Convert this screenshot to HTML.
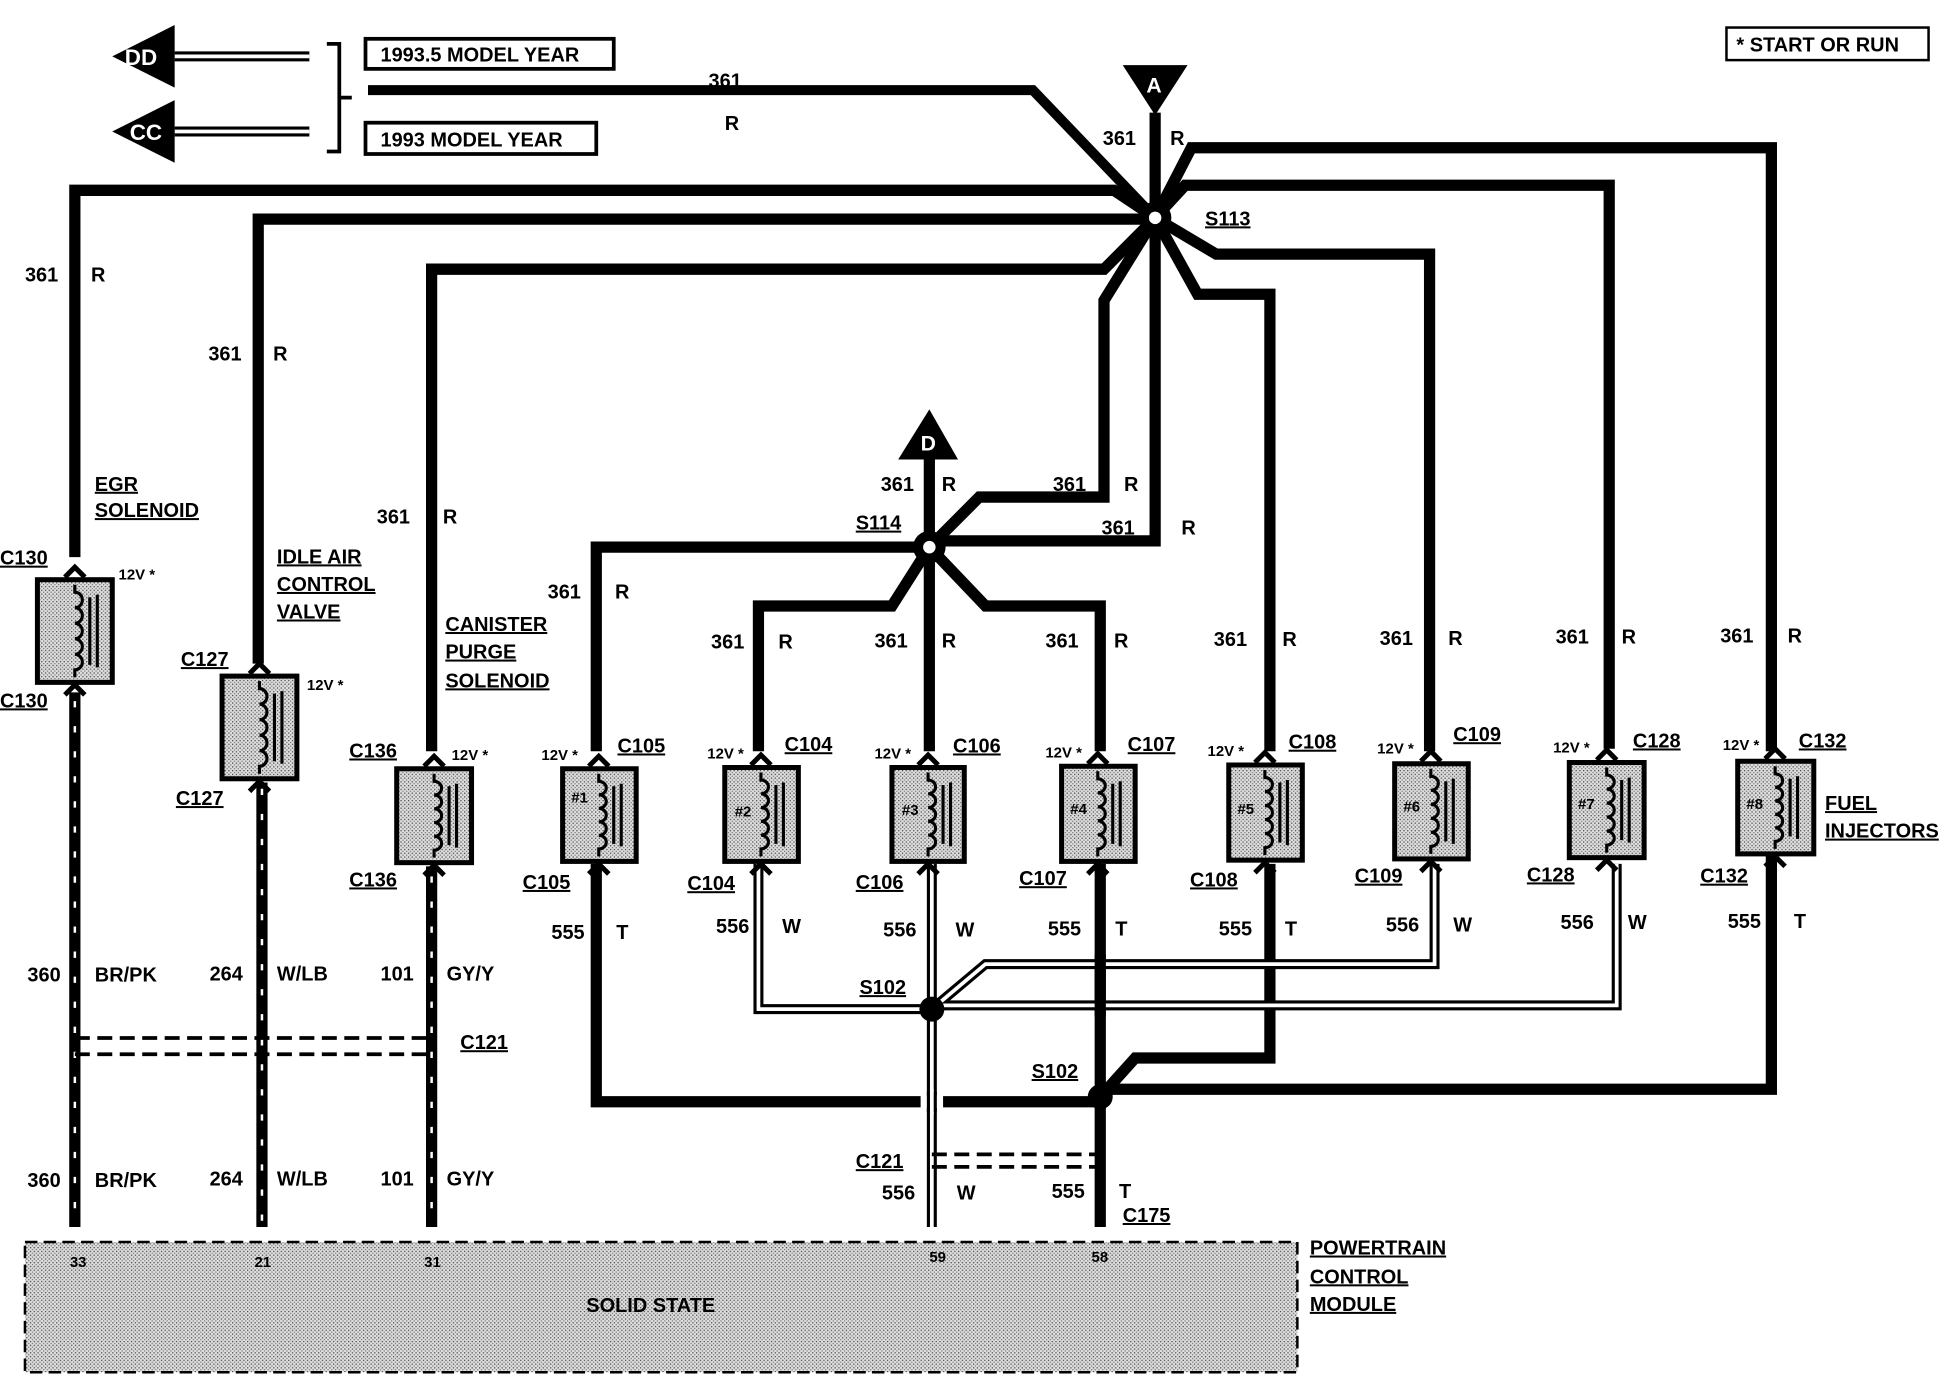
<!DOCTYPE html>
<html><head><meta charset="utf-8"><style>
html,body{margin:0;padding:0;background:#fff;}
svg{display:block}
text{font-family:"Liberation Sans",Arial,sans-serif;font-weight:bold;font-size:16px;fill:#000}
.u{text-decoration:underline}
.s{font-size:12px}
</style></head><body>
<svg id="s" width="1956" height="1376" viewBox="0 0 1568 1099" preserveAspectRatio="none" xmlns="http://www.w3.org/2000/svg">
<defs>
<pattern id="dots" width="3" height="3" patternUnits="userSpaceOnUse">
<rect width="3" height="3" fill="#ddd"/><rect width="1" height="1" fill="#444"/><rect x="1.5" y="1.5" width="1" height="1" fill="#777"/>
</pattern>
</defs>
<g id="wires" fill="none" stroke="#000" stroke-linejoin="miter">
<!-- top area -->
<path d="M295 72 H828 L926 174" stroke-width="8"/>
<path d="M926 90 V174" stroke-width="9"/>
<path d="M60 445 V152 H893 L926 174" stroke-width="9"/>
<path d="M207 530 V175 H926" stroke-width="9"/>
<path d="M346 600 V215 H885 L926 174" stroke-width="9"/>
<path d="M926 174 L955 118 H1420 V600" stroke-width="9"/>
<path d="M926 174 L950 148 H1290 V598" stroke-width="9"/>
<path d="M926 174 L975 203 H1146 V600" stroke-width="9"/>
<path d="M926 174 L960 235 H1018 V600" stroke-width="9"/>
<path d="M926 174 L885 240 V397 H785 L745 437" stroke-width="9"/>
<path d="M926 174 V432 H745" stroke-width="9"/>
<path d="M745 367 V600" stroke-width="9"/>
<path d="M745 437 H478 V600" stroke-width="9"/>
<path d="M745 437 L715 484 H608 V600" stroke-width="9"/>
<path d="M745 437 L790 484 H882 V600" stroke-width="9"/>
<!-- returns -->
<path d="M478 690 V880 H882" stroke-width="9"/>
<path d="M882 690 V980" stroke-width="9"/>
<path d="M1018 690 V845 H910 L882 876" stroke-width="9"/>
<path d="M1420 682 V870 H882" stroke-width="9"/>
<g id="dbl">
<path d="M608 690 V806 H747" stroke-width="8"/>
<path d="M747 690 V980" stroke-width="8"/>
<path d="M1150 690 V770 H790 L747 806" stroke-width="8"/>
<path d="M1296 690 V803 H747" stroke-width="8"/>
</g>
<g stroke="#fff" stroke-width="3">
<path d="M608 690 V806 H747"/>
<path d="M747 690 V980"/>
<path d="M1150 690 V770 H790 L747 806"/>
<path d="M1296 690 V803 H747"/>
</g>
<!-- gaps at crossings -->
<path d="M738 880 H756" stroke="#fff" stroke-width="10"/>
<path d="M747 872 V888" stroke-width="8"/><path d="M747 870 V890" stroke="#fff" stroke-width="3"/>
<path d="M882 762 V812" stroke-width="9"/>
<path d="M877 770 H888 M877 806 H888 M877 803 H888" stroke="#fff" stroke-width="0"/>
<!-- striped wires -->
<g stroke-width="9"><path d="M60 553 V980"/><path d="M210 625 V980"/><path d="M346 692 V980"/></g>
<g stroke="#fff" stroke-width="2" stroke-dasharray="5 15"><path d="M60 560 V980"/><path d="M210 630 V980"/><path d="M346 700 V980"/></g>
<!-- C121 dashed -->
<g stroke-width="3" stroke-dasharray="12 6"><path d="M60 829 H346"/><path d="M60 842 H346"/><path d="M747 922 H882"/><path d="M747 932 H882"/></g>
<!-- top-left -->
<path d="M140 45 H248" stroke-width="8"/><path d="M140 45 H248" stroke="#fff" stroke-width="3"/>
<path d="M140 105 H248" stroke-width="8"/><path d="M140 105 H248" stroke="#fff" stroke-width="3"/>
<path d="M262 35 H272 V121 H262 M272 78 H282" stroke-width="3"/>
</g>
<g fill="#000">
<polygon points="90,45 140,20 140,70"/>
<polygon points="90,105 140,80 140,130"/>
<polygon points="900,52 952,52 926,92"/>
<polygon points="720,367 768,367 745,327"/>
<circle cx="926" cy="174" r="13"/><circle cx="745" cy="437" r="13"/>
<circle cx="747" cy="806" r="10"/><circle cx="882" cy="876" r="10"/>
</g>
<circle cx="926" cy="174" r="5" fill="#fff"/><circle cx="745" cy="437" r="5" fill="#fff"/>
<text x="100" y="52" fill="#fff" style="fill:#fff;font-size:18px">DD</text>
<text x="104" y="112" style="fill:#fff;font-size:18px">CC</text>
<text x="919" y="74" style="fill:#fff;font-size:17px">A</text>
<text x="738" y="360" style="fill:#fff;font-size:17px">D</text>
<rect x="293" y="31" width="199" height="24" fill="#fff" stroke="#000" stroke-width="3"/>
<rect x="293" y="98" width="185" height="25" fill="#fff" stroke="#000" stroke-width="3"/>
<text x="305" y="49">1993.5 MODEL YEAR</text>
<text x="305" y="117">1993 MODEL YEAR</text>
<rect x="1384" y="22" width="162" height="26" fill="#fff" stroke="#000" stroke-width="2"/>
<text x="1392" y="41">* START OR RUN</text>
<!-- PCM -->
<rect x="20" y="992" width="1020" height="104" fill="url(#dots)" stroke="#000" stroke-width="2" stroke-dasharray="10 5"/>
<g id="comps"></g>
<g>
<text x="568" y="70">361</text><text x="581" y="104">R</text>
<text x="884" y="116">361</text><text x="938" y="116">R</text>
<text x="966" y="180" class="u">S113</text>
<text x="20" y="225">361</text><text x="73" y="225">R</text>
<text x="167" y="288">361</text><text x="219" y="288">R</text>
<text x="302" y="418">361</text><text x="355" y="418">R</text>
<text x="706" y="392">361</text><text x="755" y="392">R</text>
<text x="844" y="392">361</text><text x="901" y="392">R</text>
<text x="883" y="427">361</text><text x="947" y="427">R</text>
<text x="686" y="423" class="u">S114</text>
<text x="439" y="478">361</text><text x="493" y="478">R</text>
<text x="570" y="518">361</text><text x="624" y="518">R</text>
<text x="701" y="517">361</text><text x="755" y="517">R</text>
<text x="838" y="517">361</text><text x="893" y="517">R</text>
<text x="973" y="516">361</text><text x="1028" y="516">R</text>
<text x="1106" y="515">361</text><text x="1161" y="515">R</text>
<text x="1247" y="514">361</text><text x="1300" y="514">R</text>
<text x="1379" y="513">361</text><text x="1433" y="513">R</text>
<text x="76" y="392" class="u">EGR</text><text x="76" y="413" class="u">SOLENOID</text>
<text x="222" y="450" class="u">IDLE AIR</text><text x="222" y="472" class="u">CONTROL</text><text x="222" y="494" class="u">VALVE</text>
<text x="357" y="504" class="u">CANISTER</text><text x="357" y="526" class="u">PURGE</text><text x="357" y="549" class="u">SOLENOID</text>
<text x="1463" y="647" class="u">FUEL</text><text x="1463" y="669" class="u">INJECTORS</text>
<text x="0" y="451" class="u">C130</text><text x="0" y="565" class="u">C130</text>
<text x="145" y="532" class="u">C127</text><text x="141" y="643" class="u">C127</text>
<text x="280" y="605" class="u">C136</text><text x="280" y="708" class="u">C136</text>
<text x="495" y="601" class="u">C105</text><text x="419" y="710" class="u">C105</text>
<text x="629" y="600" class="u">C104</text><text x="551" y="711" class="u">C104</text>
<text x="764" y="601" class="u">C106</text><text x="686" y="710" class="u">C106</text>
<text x="904" y="600" class="u">C107</text><text x="817" y="707" class="u">C107</text>
<text x="1033" y="598" class="u">C108</text><text x="954" y="708" class="u">C108</text>
<text x="1165" y="592" class="u">C109</text><text x="1086" y="705" class="u">C109</text>
<text x="1309" y="597" class="u">C128</text><text x="1224" y="704" class="u">C128</text>
<text x="1442" y="597" class="u">C132</text><text x="1363" y="705" class="u">C132</text>
<g class="s">
<text x="95" y="463" class="s">12V *</text><text x="246" y="551" class="s">12V *</text>
<text x="362" y="607" class="s">12V *</text><text x="434" y="607" class="s">12V *</text>
<text x="567" y="606" class="s">12V *</text><text x="701" y="606" class="s">12V *</text>
<text x="838" y="605" class="s">12V *</text><text x="968" y="604" class="s">12V *</text>
<text x="1104" y="602" class="s">12V *</text><text x="1245" y="601" class="s">12V *</text>
<text x="1381" y="599" class="s">12V *</text>
</g>
<text x="442" y="750">555</text><text x="494" y="750">T</text>
<text x="574" y="745">556</text><text x="627" y="745">W</text>
<text x="708" y="748">556</text><text x="766" y="748">W</text>
<text x="840" y="747">555</text><text x="894" y="747">T</text>
<text x="977" y="747">555</text><text x="1030" y="747">T</text>
<text x="1111" y="744">556</text><text x="1165" y="744">W</text>
<text x="1251" y="742">556</text><text x="1305" y="742">W</text>
<text x="1385" y="741">555</text><text x="1438" y="741">T</text>
<text x="689" y="794" class="u">S102</text><text x="827" y="861" class="u">S102</text>
<text x="22" y="784">360</text><text x="76" y="784">BR/PK</text>
<text x="168" y="783">264</text><text x="222" y="783">W/LB</text>
<text x="305" y="783">101</text><text x="358" y="783">GY/Y</text>
<text x="369" y="838" class="u">C121</text>
<text x="22" y="948">360</text><text x="76" y="948">BR/PK</text>
<text x="168" y="947">264</text><text x="222" y="947">W/LB</text>
<text x="305" y="947">101</text><text x="358" y="947">GY/Y</text>
<text x="686" y="933" class="u">C121</text>
<text x="707" y="958">556</text><text x="767" y="958">W</text>
<text x="843" y="957">555</text><text x="897" y="957">T</text>
<text x="900" y="976" class="u">C175</text>
<text x="56" y="1012" class="s">33</text><text x="204" y="1012" class="s">21</text>
<text x="340" y="1012" class="s">31</text><text x="745" y="1008" class="s">59</text>
<text x="875" y="1008" class="s">58</text>
<text x="470" y="1048">SOLID STATE</text>
<text x="1050" y="1002" class="u">POWERTRAIN</text><text x="1050" y="1025" class="u">CONTROL</text><text x="1050" y="1047" class="u">MODULE</text>
<text x="458" y="641" class="s">#1</text><text x="589" y="652" class="s">#2</text>
<text x="723" y="651" class="s">#3</text><text x="858" y="650" class="s">#4</text>
<text x="992" y="650" class="s">#5</text><text x="1125" y="648" class="s">#6</text>
<text x="1265" y="646" class="s">#7</text><text x="1400" y="646" class="s">#8</text>
</g>
</svg>
<script>
var g=document.getElementById('comps'),ns='http://www.w3.org/2000/svg';
function el(t,a){var e=document.createElementNS(ns,t);for(var k in a)e.setAttribute(k,a[k]);g.appendChild(e);return e;}
var boxes=[[30,463,60,82,60],[178,540,60,82,208],[318,614,60,75,348],[451,614,59,74,480],[581,613,59,75,610],[715,613,58,75,744],[851,612,59,76,880],[985,611,59,76,1014],[1118,610,59,76,1147],[1258,609,60,76,1288],[1393,608,61,74,1423]];
boxes.forEach(function(b){
 var x=b[0],y=b[1],w=b[2],h=b[3],cx=b[4];
 // connector chevrons
 el('path',{d:'M'+(cx-8)+' '+(y-2)+' L'+cx+' '+(y-10)+' L'+(cx+8)+' '+(y-2),fill:'none',stroke:'#000','stroke-width':4});
 el('path',{d:'M'+(cx-8)+' '+(y+h+10)+' L'+cx+' '+(y+h+2)+' L'+(cx+8)+' '+(y+h+10),fill:'none',stroke:'#000','stroke-width':4});
 el('rect',{x:x,y:y,width:w,height:h,fill:'url(#dots)',stroke:'#000','stroke-width':4});
 var lx=cx, t=y+10, bt=y+h-10, seg=(bt-t)/5;
 var d='M'+lx+' '+(y+4)+' V'+t;
 for(var i=0;i<5;i++){d+=' a6 '+(seg/2)+' 0 0 1 0 '+seg;}
 d+=' V'+(y+h-4);
 el('path',{d:d,fill:'none',stroke:'#000','stroke-width':2.5});
 el('path',{d:'M'+(cx+12)+' '+(y+14)+' V'+(y+h-14)+' M'+(cx+18)+' '+(y+12)+' V'+(y+h-12),stroke:'#000','stroke-width':2.5});
});
</script>
</body></html>
